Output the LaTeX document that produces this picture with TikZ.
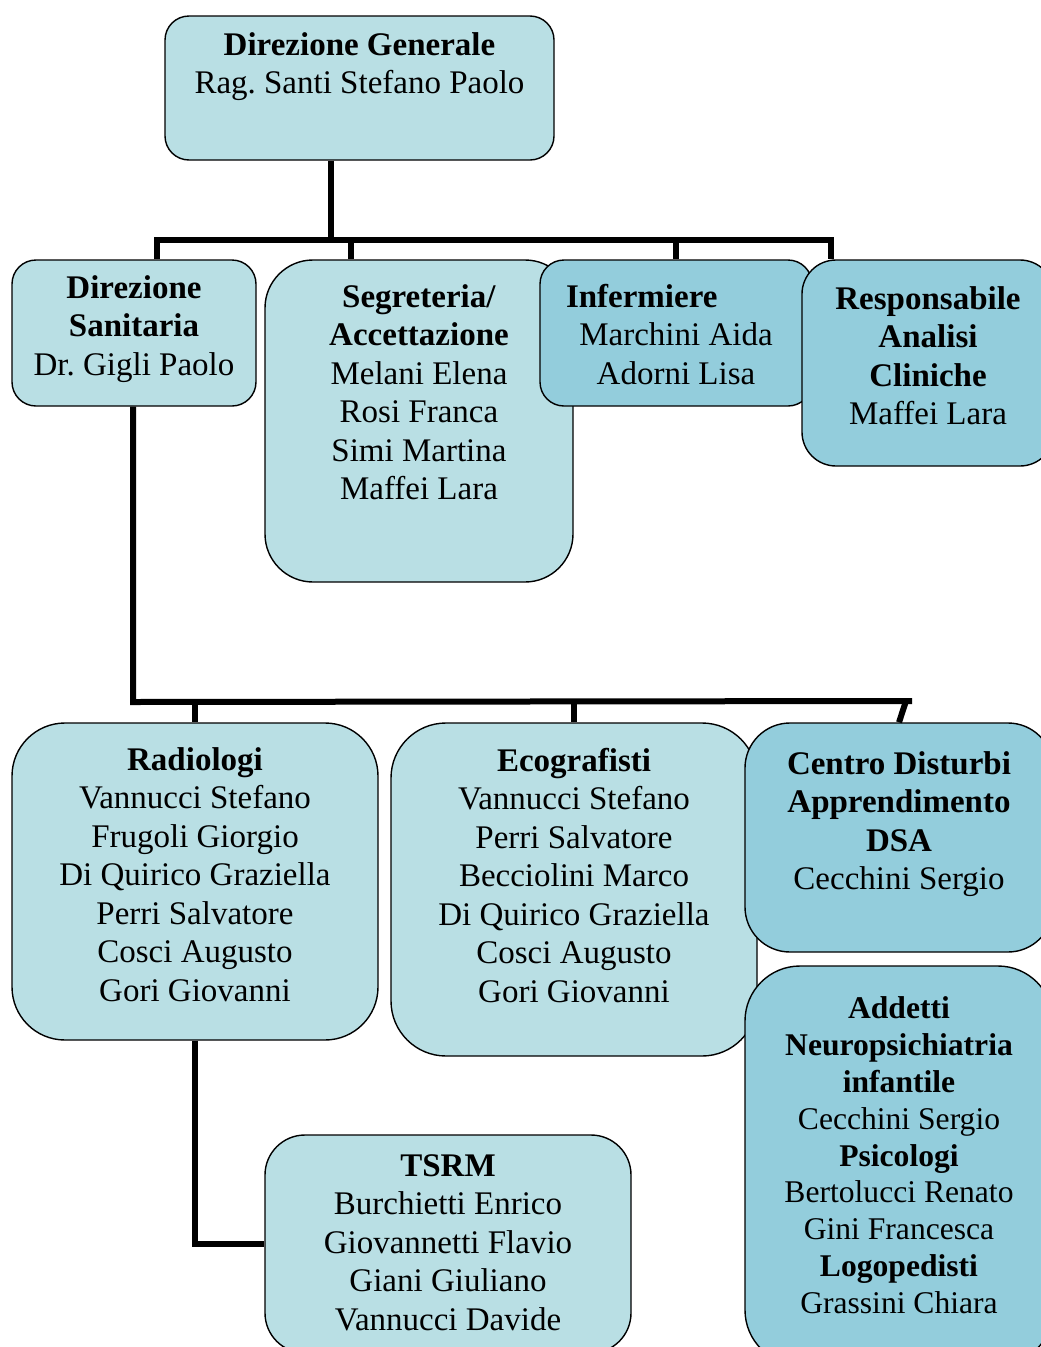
\documentclass[tikz,border=0pt]{standalone}
\usepackage{fontspec}
\setmainfont{Liberation Serif}
\usetikzlibrary{positioning}
\definecolor{aqualight}{HTML}{B9DFE4}
\definecolor{aquadark}{HTML}{93CDDC}
\frenchspacing

\begin{document}
\begin{tikzpicture}[x=1pt,y=-1pt,
  every node/.style={align=center},
  box/.style={draw,line width=1.4pt,fill=aqualight,inner sep=0pt},
  darkbox/.style={box,fill=aquadark},
  txt/.style={anchor=north,inner sep=0pt,font=\fontsize{33}{38.5}\selectfont},
  smalltxt/.style={txt,font=\fontsize{31.6}{36.8}\selectfont},
  conn/.style={line width=6pt}
]
  \useasboundingbox (0,0) rectangle (1041,1347);

  % first level
  \node[box,rounded corners=24pt,minimum width=389pt,minimum height=144pt] (dg) at (359.5,88) {};
  \node[txt] (dgtext) at (359.5,28)
    {\strut\textbf{Direzione Generale}\\Rag. Santi Stefano Paolo};

  \node[box,rounded corners=24pt,minimum width=244pt,minimum height=146pt] (ds) at (134,333) {};
  \node[txt] (dstext) at (134,271)
    {\strut\textbf{Direzione}\\\textbf{Sanitaria}\\Dr. Gigli Paolo};

  \node[box,rounded corners=48pt,minimum width=308pt,minimum height=322pt] (seg) at (419,421) {};
  \node[txt] (segtext) at (419,280)
    {\strut\textbf{Segreteria/}\\\textbf{Accettazione}\\Melani Elena\\Rosi Franca\\Simi Martina\\Maffei Lara};

  \node[darkbox,rounded corners=24pt,minimum width=272pt,minimum height=146pt] (inf) at (676,333) {};
  \node[txt] (inftext) at (676,280)
    {\strut\makebox[220pt][l]{\textbf{Infermiere}}\\Marchini Aida\\Adorni Lisa};

  \node[darkbox,rounded corners=34pt,minimum width=252pt,minimum height=206pt] (resp) at (928,363) {};
  \node[txt] (resptext) at (928,282)
    {\strut\textbf{Responsabile}\\\textbf{Analisi}\\\textbf{Cliniche}\\Maffei Lara};

  % second level
  \node[box,rounded corners=53pt,minimum width=366pt,minimum height=317pt] (rad) at (195,881.5) {};
  \node[txt] (radtext) at (195,743)
    {\strut\textbf{Radiologi}\\Vannucci Stefano\\Frugoli Giorgio\\Di Quirico Graziella\\Perri Salvatore\\Cosci Augusto\\Gori Giovanni};

  \node[box,rounded corners=55pt,minimum width=366pt,minimum height=333pt] (eco) at (574,889.5) {};
  \node[txt] (ecotext) at (574,744)
    {\strut\textbf{Ecografisti}\\Vannucci Stefano\\Perri Salvatore\\Becciolini Marco\\Di Quirico Graziella\\Cosci Augusto\\Gori Giovanni};

  \node[darkbox,rounded corners=45pt,minimum width=308pt,minimum height=229pt] (dsa) at (899,837.5) {};
  \node[txt] (dsatext) at (899,747)
    {\strut\textbf{Centro Disturbi}\\\textbf{Apprendimento}\\\textbf{DSA}\\Cecchini Sergio};

  \node[darkbox,rounded corners=55pt,minimum width=308pt,minimum height=399pt] (npi) at (899,1165.5) {};
  \node[smalltxt] (npitext) at (899,993)
    {\strut\textbf{Addetti}\\\textbf{Neuropsichiatria}\\\textbf{infantile}\\Cecchini Sergio\\\textbf{Psicologi}\\Bertolucci Renato\\Gini Francesca\\\textbf{Logopedisti}\\Grassini Chiara};

  \node[box,rounded corners=40pt,minimum width=366pt,minimum height=218pt] (tsrm) at (448,1244) {};
  \node[txt] (tsrmtext) at (448,1149)
    {\strut\textbf{TSRM}\\Burchietti Enrico\\Giovannetti Flavio\\Giani Giuliano\\Vannucci Davide};

  % connectors
  \coordinate (topbus) at (331,240);
  \coordinate (topbusL) at (157,240);
  \coordinate (topbusR) at (831,240);
  \coordinate (segdrop) at (351,240);
  \coordinate (infdrop) at (676,240);
  \draw[conn] (dg.south -| topbus) -- (topbus);
  \draw[conn] (ds.north -| topbusL) -- (topbusL) -- (topbusR) -- (resp.north -| topbusR);
  \draw[conn] (segdrop) -- (segdrop |- seg.north);
  \draw[conn] (infdrop) -- (inf.north);

  \coordinate (midbusL) at (133,702);
  \coordinate (midbusR) at (912,701);
  \coordinate (dsadrop) at (906,701);
  \draw[conn] (ds.south -| midbusL) -- (midbusL) -- (midbusR);
  \draw[conn] (rad.north |- midbusL) -- (rad.north);
  \draw[conn] (eco.north |- midbusL) -- (eco.north);
  \draw[conn] (dsadrop) -- (dsa.north);

  \draw[conn] (rad.south) |- (tsrm.west);
\end{tikzpicture}
\end{document}
